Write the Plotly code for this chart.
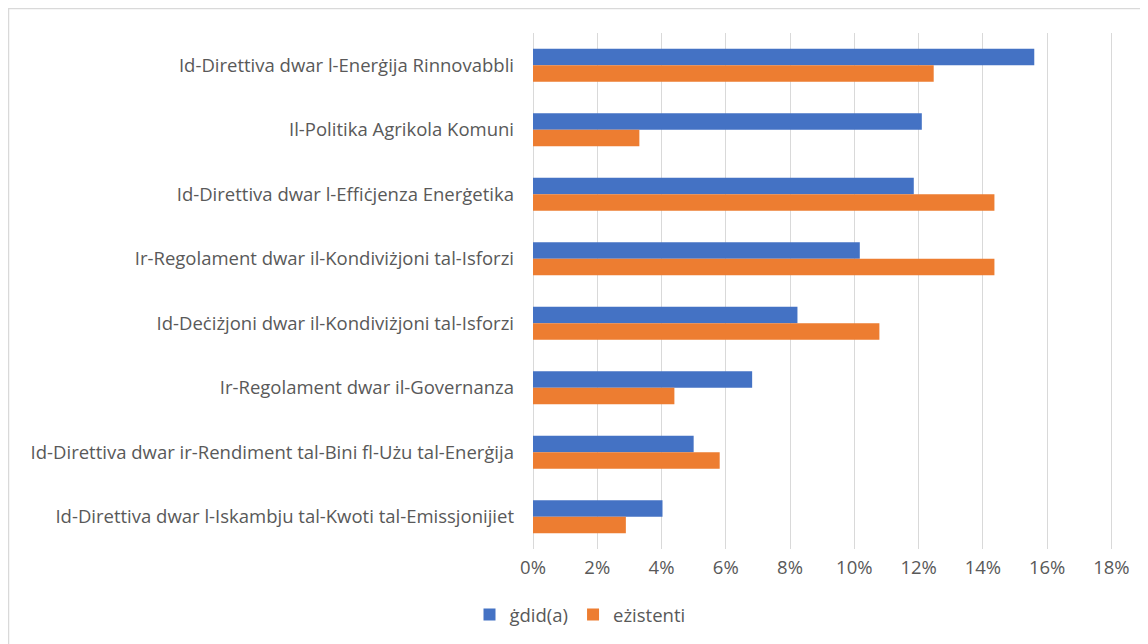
import plotly.graph_objects as go

categories = [
    "Id-Direttiva dwar l-Enerġija Rinnovabbli",
    "Il-Politika Agrikola Komuni",
    "Id-Direttiva dwar l-Effiċjenza Enerġetika",
    "Ir-Regolament dwar il-Kondiviżjoni tal-Isforzi",
    "Id-Deċiżjoni dwar il-Kondiviżjoni tal-Isforzi",
    "Ir-Regolament dwar il-Governanza",
    "Id-Direttiva dwar ir-Rendiment tal-Bini fl-Użu tal-Enerġija",
    "Id-Direttiva dwar l-Iskambju tal-Kwoti tal-Emissjonijiet",
]
gdid = [0.156, 0.121, 0.1185, 0.1017, 0.0823, 0.0682, 0.050, 0.0403]
ezistenti = [0.1247, 0.0331, 0.1436, 0.1436, 0.1078, 0.044, 0.0581, 0.0289]
tick_vals = [0, 0.02, 0.04, 0.06, 0.08, 0.10, 0.12, 0.14, 0.16, 0.18]
tick_text = ["0%", "2%", "4%", "6%", "8%", "10%", "12%", "14%", "16%", "18%"]

FONT = "Open Sans"
GRAY = "#595959"
FS = 18.5

fig = go.Figure()
fig.add_trace(go.Bar(y=categories, x=gdid, name="ġdid(a)", orientation="h",
                     marker=dict(color="#4472C4", line=dict(width=0))))
fig.add_trace(go.Bar(y=categories, x=ezistenti, name="eżistenti", orientation="h",
                     marker=dict(color="#ED7D31", line=dict(width=0))))

# page is drawn with an 8px body offset; figure coordinates below are page - 8
OFF = 8
W, H = 1148 - OFF, 644 - OFF
ml = 533 - OFF
mt = 33 - OFF
mr = W - (1113 - OFF)
mb = H - (549 - OFF)
pw, ph = W - ml - mr, H - mt - mb

def px(x):  # page x -> paper x
    return (x - OFF - ml) / pw

def py(y):  # page y -> paper y
    return (H - mb - (y - OFF)) / ph

fig.update_layout(
    width=W, height=H,
    margin=dict(l=ml, r=mr, t=mt, b=mb, autoexpand=False),
    paper_bgcolor="white", plot_bgcolor="white",
    barmode="group", bargap=0.49, bargroupgap=0,
    font=dict(family=FONT, size=FS, color=GRAY),
    showlegend=True,
    legend=dict(orientation="h", x=px(580), y=py(615), xanchor="center", yanchor="middle",
                font=dict(family=FONT, size=FS, color=GRAY), traceorder="normal",
                itemwidth=30, tracegroupgap=0),
    xaxis=dict(range=[0, 0.1805], tickvals=tick_vals, ticktext=tick_text,
               showgrid=True, gridcolor="#D9D9D9", gridwidth=1,
               zeroline=True, zerolinecolor="#D9D9D9", zerolinewidth=1,
               showline=False, ticks="", ticklabelstandoff=5,
               tickfont=dict(size=FS, color=GRAY)),
    yaxis=dict(autorange="reversed", showgrid=False, showline=False, ticks="",
               ticklabelstandoff=18, tickfont=dict(size=FS, color=GRAY)),
    shapes=[dict(type="rect", xref="paper", yref="paper",
                 x0=px(8.5), x1=px(1170), y0=py(680), y1=py(8.5),
                 line=dict(color="#D9D9D9", width=1.5), fillcolor="rgba(0,0,0,0)", layer="below")],
)

fig.write_html("out.html")
